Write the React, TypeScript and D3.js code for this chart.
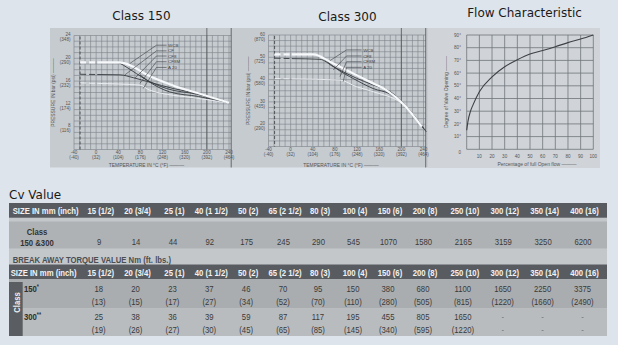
import React from 'react';
import * as d3 from 'd3';

// ---------------- data ----------------
const tempTicks = [-40, 0, 40, 80, 120, 160, 200, 240];
const tempTicksF = ['(-40)', '(32)', '(104)', '(176)', '(248)', '(320)', '(392)', '(464)'];
const p150Ticks = [8, 12, 16, 20, 24];
const p150Psi = ['(116)', '(174)', '(232)', '(290)', '(348)'];
const p300Ticks = [20, 30, 40, 50, 60];
const p300Psi = ['(290)', '(435)', '(580)', '(725)', '(870)'];

const mat150 = ['WCB', 'CF', 'CF8', 'CF8M', 'A 20'];
const mat300 = ['WCB', 'CF8', 'CF8M', 'A 20'];

// [temperature °C, pressure bar]
const c150WCB: [number, number][] = [[-29, 19.3], [40, 19.3], [52, 19.1], [65, 18.6], [90, 17.2], [140, 15.2], [190, 13.7], [240, 12.2]];
const c150CF: [number, number][] = [[-29, 17.2], [43, 17.1], [67, 16.6], [97, 15.8], [139, 14.7], [188, 13.7], [240, 12.2]];
const c150CF8: [number, number][] = [[40, 19.3], [49, 18.8], [97, 15.9], [127, 14.7], [182, 13.7], [240, 12.2]];
const c150CF8M: [number, number][] = [[79, 17.1], [91, 16.2], [133, 14.1], [185, 13.3], [240, 12.2]];
const c150A20: [number, number][] = [[-29, 15.7], [79, 15.3], [97, 14.4], [182, 13.0], [240, 12.2]];

const c300WCB: [number, number][] = [[-29, 51.3], [41, 51.3], [71, 48], [107, 43.5], [143, 39], [173, 35.3], [207, 28.2], [237, 18.9]];
const c300CF8: [number, number][] = [[-29, 49.6], [53, 49.1], [77, 45.8], [119, 40.6], [149, 37.6], [180, 34.6], [207, 28.6], [245, 16.6]];
const c300CF8M: [number, number][] = [[60, 49.3], [85, 44.5], [113, 40.5], [149, 36], [180, 33.5], [207, 28.4], [240, 18]];
const c300A20: [number, number][] = [[-29, 40.5], [89, 39.8], [119, 36.8], [149, 34.6], [207, 28.2], [237, 18.9]];

// leader targets [temp, bar]
const lead150: [number, number][] = [[61, 19.1], [52, 17.1], [70, 16.5], [79, 15.6], [85, 14.7]];
const lead300: [number, number][] = [[71, 48.5], [77, 44.3], [89, 41.3], [95, 39.1]];
const labelBars150 = [22.3, 21.3, 20.4, 19.4, 18.4];
const labelBars300 = [53.3, 50.6, 48, 45.5];

const flowPct = [0, 1, 3, 5, 10, 20, 30, 40, 50, 60, 70, 80, 90, 100];
const flowDeg = [15, 22, 30, 35, 45.3, 57, 65, 70.5, 75, 77.8, 80.8, 84, 86.8, 90];
const flowXTicks = [10, 20, 30, 40, 50, 60, 70, 80, 90, 100];
const flowYTicks = [10, 20, 30, 40, 50, 60, 70, 80, 90];

const sizes = ['15 (1/2)', '20 (3/4)', '25 (1)', '40 (1 1/2)', '50 (2)', '65 (2 1/2)', '80 (3)', '100 (4)', '150 (6)', '200 (8)', '250 (10)', '300 (12)', '350 (14)', '400 (16)'];
const cvValues = [9, 14, 44, 92, 175, 245, 290, 545, 1070, 1580, 2165, 3159, 3250, 6200];
const t150Nm = ['18', '20', '23', '37', '46', '70', '95', '150', '380', '680', '1100', '1650', '2250', '3375'];
const t150Ft = ['(13)', '(15)', '(17)', '(27)', '(34)', '(52)', '(70)', '(110)', '(280)', '(505)', '(815)', '(1220)', '(1660)', '(2490)'];
const t300Nm = ['25', '38', '36', '39', '59', '87', '117', '195', '455', '805', '1650', '-', '-', '-'];
const t300Ft = ['(19)', '(26)', '(27)', '(30)', '(45)', '(65)', '(85)', '(145)', '(340)', '(595)', '(1220)', '-', '-', '-'];

// ---------------- styles ----------------
const PAGE = '#dee4eb';
const PANEL = '#c6cbd0';
const PANEL3 = '#d0d4d8';
const GRID = '#7b8186';
const SANS = 'Liberation Sans, Arial, sans-serif';
const TITLE = '"DejaVu Sans", Verdana, sans-serif';

type Pt = [number, number];
type Kind = 'white' | 'dark' | 'light';
interface Series { pts: Pt[]; kind: Kind }

const strokeFor: Record<Kind, { c: string; w: number }> = {
  white: { c: '#f6f8fa', w: 2.2 },
  dark: { c: '#353a3f', w: 0.9 },
  light: { c: '#eef1f4', w: 0.9 },
};

interface PCfg {
  x0: number; x1: number; y0: number; y1: number;
  yDomain: [number, number]; stepY: number;
  yTicks: number[]; yPsi: string[];
  series: Series[]; labels: string[]; labelBars: number[]; targets: Pt[];
  labelTemp: number; elbowTemp: number;
}

function PressureChart({ c }: { c: PCfg }) {
  const x = d3.scaleLinear().domain([-40, 240]).range([c.x0, c.x1]);
  const y = d3.scaleLinear().domain(c.yDomain).range([c.y1, c.y0]);
  const gx1 = x(244);
  const line = d3.line<Pt>().x(d => x(d[0])).y(d => y(d[1])).curve(d3.curveMonotoneX);
  const vLines = d3.range(-40, 241, 10);
  const hLines = d3.range(c.yDomain[0], c.yDomain[1] + 0.001, c.stepY);
  const fs = 4.6;
  return (
    <g>
      {hLines.map((v, i) => (
        <line key={'h' + i} x1={x(-40)} x2={gx1} y1={y(v)} y2={y(v)} stroke={GRID} strokeWidth={0.6} />
      ))}
      {vLines.map((v, i) => (
        <line key={'v' + i} x1={x(v)} x2={x(v)} y1={y(c.yDomain[1])} y2={y(c.yDomain[0])} stroke={GRID} strokeWidth={0.6} />
      ))}
      <line x1={x(200)} x2={x(200)} y1={28} y2={y(c.yDomain[0])} stroke="#4f5358" strokeWidth={0.8} />
      <line x1={gx1} x2={gx1} y1={28} y2={167.5} stroke="#4f5358" strokeWidth={0.8} />
      <line x1={x(-29)} x2={x(-29)} y1={y(c.yDomain[1]) + 1} y2={y(c.yDomain[0])} stroke="#3a3e43" strokeWidth={0.8} strokeDasharray="3 2" />
      {c.series.map((s, i) => {
        const st = strokeFor[s.kind];
        const first = s.pts[0];
        if (first[0] < 0) {
          const f = d3.scaleLinear().domain(s.pts.map(p => p[0])).range(s.pts.map(p => p[1]));
          const split: Pt = [2, f(2)];
          const dashed: Pt[] = [first, split];
          const solid: Pt[] = [split, ...s.pts.filter(p => p[0] > 2)];
          return (
            <g key={i}>
              <path d={line(dashed) || ''} fill="none" stroke={st.c} strokeWidth={st.w} strokeDasharray="6 3" />
              <path d={line(solid) || ''} fill="none" stroke={st.c} strokeWidth={st.w} />
            </g>
          );
        }
        return <path key={i} d={line(s.pts) || ''} fill="none" stroke={st.c} strokeWidth={st.w} />;
      })}
      {c.labels.map((l, i) => {
        const ly = y(c.labelBars[i]);
        const t = c.targets[i];
        return (
          <g key={'l' + i}>
            <polyline
              points={`${x(c.labelTemp) - 1.5},${ly} ${x(c.elbowTemp)},${ly} ${x(t[0])},${y(t[1])}`}
              fill="none" stroke="#3a3e43" strokeWidth={0.6} />
            <text x={x(c.labelTemp)} y={ly + 1.6} fontSize={4.4} fontFamily={SANS} fill="#444">{l}</text>
          </g>
        );
      })}
      {c.yTicks.map((v, i) => (
        <g key={'yt' + i} fontFamily={SANS} fontSize={fs} fill="#555" textAnchor="end">
          <text x={c.x0 - 3.5} y={y(v) + 0.7}>{v}</text>
          <text x={c.x0 - 3.5} y={y(v) + 5.6}>{c.yPsi[i]}</text>
        </g>
      ))}
      {tempTicks.map((v, i) => (
        <g key={'xt' + i} fontFamily={SANS} fontSize={fs} fill="#555" textAnchor="middle">
          <text x={x(v)} y={c.y1 + 4.4}>{v}</text>
          <text x={x(v)} y={c.y1 + 9.2}>{tempTicksF[i]}</text>
        </g>
      ))}
      <text transform={`translate(${c.x0 - 19},${(c.y0 + c.y1) / 2}) rotate(-90)`} textAnchor="middle"
        fontFamily={SANS} fontSize={4.9} fill="#555">PRESSURE IN bar (psi) ———</text>
      <text x={(c.x0 + c.x1) / 2 - 5} y={167} textAnchor="middle" fontFamily={SANS} fontSize={4.9} fill="#555">
        TEMPERATURE IN °C (°F) ———
      </text>
    </g>
  );
}

function FlowChart() {
  const x = d3.scaleLinear().domain([0, 100]).range([466.7, 593.3]);
  const y = d3.scaleLinear().domain([0, 90]).range([149.3, 35]);
  const pts: Pt[] = flowPct.map((p, i) => [p, flowDeg[i]]);
  const line = d3.line<Pt>().x(d => x(d[0])).y(d => y(d[1])).curve(d3.curveMonotoneX);
  return (
    <g>
      {[0, ...flowYTicks].map((v, i) => (
        <line key={'h' + i} x1={x(0)} x2={x(100)} y1={y(v)} y2={y(v)} stroke="#6f757a" strokeWidth={0.8} />
      ))}
      {[0, ...flowXTicks].map((v, i) => (
        <line key={'v' + i} x1={x(v)} x2={x(v)} y1={y(90)} y2={y(0)} stroke="#6f757a" strokeWidth={0.8} />
      ))}
      <path d={line(pts) || ''} fill="none" stroke="#3d4146" strokeWidth={1.1} />
      {flowYTicks.map((v, i) => (
        <text key={'yt' + i} x={461} y={y(v) + 1.6} textAnchor="end" fontFamily={SANS} fontSize={4.6} fill="#555">{v}°</text>
      ))}
      <text x={461} y={154} textAnchor="end" fontFamily={SANS} fontSize={4.6} fill="#555">0</text>
      {flowXTicks.map((v, i) => (
        <text key={'xt' + i} x={x(v)} y={158} textAnchor="middle" fontFamily={SANS} fontSize={4.6} fill="#555">{v}</text>
      ))}
      <text transform={`translate(447.5,92) rotate(-90)`} textAnchor="middle" fontFamily={SANS} fontSize={5} fill="#555">
        Degree of Valve Opening ———
      </text>
      <text x={537} y={166} textAnchor="middle" fontFamily={SANS} fontSize={5} fill="#555">
        Percentage of full Open flow ———
      </text>
    </g>
  );
}

// condensed text (narrow face emulated by horizontal scaling)
function NT(props: { x: number; y: number; children: React.ReactNode; anchor?: string; bold?: boolean; fill: string; rotate?: number }) {
  const { x, y, children, anchor = 'start', bold = false, fill, rotate = 0 } = props;
  return (
    <text transform={`translate(${x},${y}) rotate(${rotate}) scale(0.78,1)`} textAnchor={anchor}
      fontSize={9.9} fontWeight={bold ? 'bold' : 'normal'} fill={fill} fontFamily={SANS}>
      {children}
    </text>
  );
}

function Tables() {
  const col = d3.scaleLinear().domain([0, 5, 9, 13]).range([100.7, 285, 425, 584.5]);
  const hdr = '#585c60';
  const W = '#f2f2f2';
  const D = '#3a3a3a';
  return (
    <g>
      <rect x={9} y={203} width={598} height={133} fill="#c4c7ca" />
      <rect x={9} y={203} width={598} height={14.7} fill={hdr} />
      <rect x={9} y={221.5} width={598} height={27} fill="#aeb2b5" />
      <rect x={9} y={264.5} width={598} height={14.5} fill={hdr} />
      <rect x={9} y={279} width={598} height={29.3} fill="#a9adb0" />
      <rect x={9} y={308.3} width={598} height={27.7} fill="#b9bcbf" />
      <rect x={9} y={282} width={13.7} height={54} fill="#5a5e62" />

      <NT x={12.7} y={213.6} bold fill={W}>SIZE IN mm (inch)</NT>
      {sizes.map((s, i) => (
        <NT key={'h1' + i} x={col(i)} y={213.6} bold fill={W} anchor="middle">{s}</NT>
      ))}
      <NT x={37} y={235} bold fill="#333" anchor="middle">Class</NT>
      <NT x={37} y={245.5} bold fill="#333" anchor="middle">150 &amp;300</NT>
      {cvValues.map((v, i) => (
        <NT key={'cv' + i} x={col(i) - 1.5} y={244.6} fill={D} anchor="middle">{v}</NT>
      ))}
      <NT x={12.7} y={262.8} bold fill="#4a4e52">BREAK AWAY TORQUE VALUE Nm (ft. lbs.)</NT>

      <NT x={10.7} y={275.8} bold fill={W}>SIZE IN mm (inch)</NT>
      {sizes.map((s, i) => (
        <NT key={'h2' + i} x={col(i)} y={275.8} bold fill={W} anchor="middle">{s}</NT>
      ))}
      <NT x={19.5} y={302.5} bold fill="#f0f0f0" anchor="middle" rotate={-90}>Class</NT>
      <NT x={24} y={291.5} bold fill="#2e2e2e">150<tspan dy={-3} fontSize={7}>*</tspan></NT>
      <NT x={24} y={320} bold fill="#2e2e2e">300<tspan dy={-3} fontSize={7}>**</tspan></NT>
      {t150Nm.map((v, i) => (
        <g key={'t150' + i}>
          <NT x={col(i) - 2} y={291.5} fill={D} anchor="middle">{v}</NT>
          <NT x={col(i) - 2} y={304.6} fill={D} anchor="middle">{t150Ft[i]}</NT>
        </g>
      ))}
      {t300Nm.map((v, i) => (
        <g key={'t300' + i}>
          <NT x={col(i) - 2} y={320} fill={v === '-' ? '#777' : D} anchor="middle">{v}</NT>
          <NT x={col(i) - 2} y={333.2} fill={v === '-' ? '#777' : D} anchor="middle">{t300Ft[i]}</NT>
        </g>
      ))}
    </g>
  );
}

const cfg150: PCfg = {
  x0: 74, x1: 229, y0: 35.5, y1: 149.5, yDomain: [4, 24], stepY: 1,
  yTicks: p150Ticks, yPsi: p150Psi,
  series: [
    { pts: c150A20, kind: 'light' },
    { pts: c150CF, kind: 'dark' },
    { pts: c150CF8, kind: 'dark' },
    { pts: c150CF8M, kind: 'dark' },
    { pts: c150WCB, kind: 'white' },
  ],
  labels: mat150, labelBars: labelBars150, targets: lead150, labelTemp: 130, elbowTemp: 109,
};

const cfg300: PCfg = {
  x0: 268.5, x1: 423.5, y0: 35, y1: 146.5, yDomain: [10, 60], stepY: 2.5,
  yTicks: p300Ticks, yPsi: p300Psi,
  series: [
    { pts: c300A20, kind: 'light' },
    { pts: c300CF8, kind: 'dark' },
    { pts: c300CF8M, kind: 'dark' },
    { pts: c300WCB, kind: 'white' },
  ],
  labels: mat300, labelBars: labelBars300, targets: lead300, labelTemp: 131, elbowTemp: 101,
};

export default function App() {
  return (
    <svg width={618} height={345} viewBox="0 0 618 345" style={{ position: 'absolute', left: 0, top: 0, display: 'block' }}>
      <rect width={618} height={345} fill={PAGE} />
      <rect x={50} y={28} width={378} height={139.5} fill={PANEL} />
      <rect x={428} y={28} width={172} height={140} fill={PANEL3} />
      <PressureChart c={cfg150} />
      <PressureChart c={cfg300} />
      <FlowChart />
      <g fontFamily={TITLE} fontSize={12} fill="#1a1a1a">
        <text x={141.5} y={19.5} textAnchor="middle">Class 150</text>
        <text x={347.5} y={21} textAnchor="middle">Class 300</text>
        <text x={524.5} y={17} textAnchor="middle">Flow Characteristic</text>
        <text x={9} y={198.5} fontSize={12}>Cv Value</text>
      </g>
      <Tables />
    </svg>
  );
}
